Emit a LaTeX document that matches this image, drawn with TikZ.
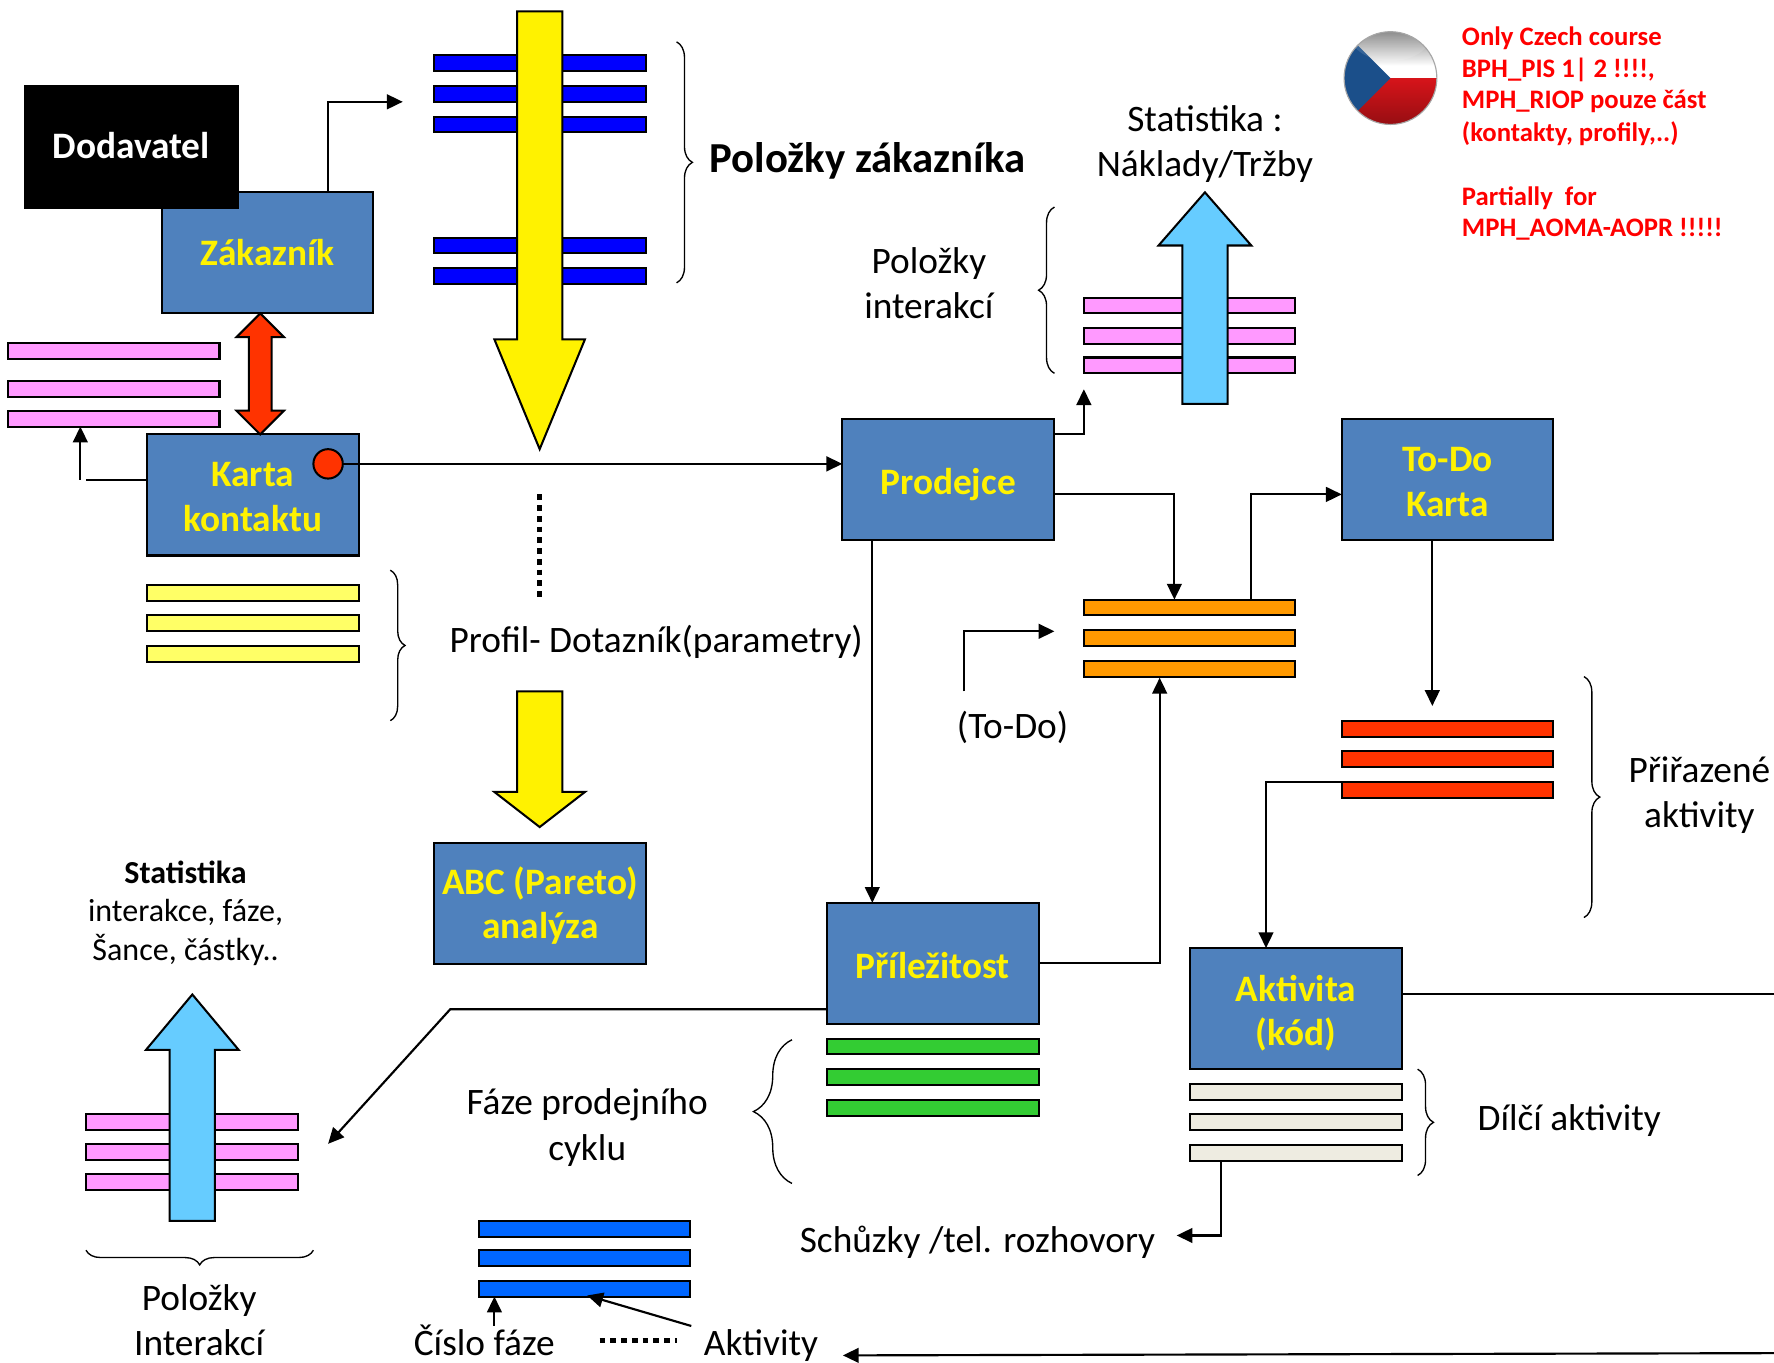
\documentclass[tikz,border=0pt]{standalone}
\usepackage{fontspec}
\setmainfont{Carlito}
\usetikzlibrary{arrows.meta,decorations.pathreplacing,calc}
\definecolor{boxblue}{HTML}{4F81BD}
\definecolor{pinkbar}{HTML}{FF99FF}
\definecolor{orangebar}{HTML}{FF9900}
\definecolor{redbar}{HTML}{FF3300}
\definecolor{greenbar}{HTML}{33CC33}
\definecolor{yellowbar}{HTML}{FFFF66}
\definecolor{skyarrow}{HTML}{66CCFF}
\definecolor{creambar}{HTML}{EEECE1}
\definecolor{midblue}{HTML}{0066FF}
\definecolor{flagblue}{HTML}{1B4F8A}
\definecolor{flagred}{HTML}{D7141A}
\tikzset{
  procbox/.style={draw=black,line width=1.8pt,fill=boxblue,inner sep=0pt,outer sep=0pt,
    minimum width=187pt,minimum height=107pt},
  boxtext/.style={yshift=-2pt,text=yellow,align=center,inner sep=0pt,
    font=\fontsize{33}{39.5}\selectfont\bfseries},
  barbox/.style={draw=black,line width=1.8pt,fill=#1,anchor=north west,inner sep=0pt,outer sep=0pt,
    minimum width=187pt,minimum height=14pt},
  lab/.style={align=center,inner sep=0pt,yshift=-2pt,font=\fontsize{33}{40}\selectfont},
  redlab/.style={anchor=west,inner sep=0pt,text=red,yshift=-2pt,font=\fontsize{23.6}{28}\selectfont\bfseries},
  conn/.style={line width=1.9pt,-{Triangle[length=14pt,width=13pt]}},
  plainconn/.style={line width=1.9pt},
  bigarrow/.style={draw=black,line width=1.8pt,fill=#1,line join=miter},
  bracepath/.style={draw=black,line width=1.2pt,decorate,decoration={brace,amplitude=#1}},
  thickdots/.style={line width=4.5pt,dash pattern=on 5pt off 4.5pt}
}
\newcommand{\barn}[4]{\node[barbox=#1] (#2) at (#3,#4) {};}
\begin{document}
\begin{tikzpicture}[x=1pt,y=-1pt]
\useasboundingbox (0,0) rectangle (1568,1204);

% --- top blue bars and yellow arrow
\barn{blue}{bza}{384}{49}
\barn{blue}{bzb}{384}{76}
\barn{blue}{bzc}{384}{103}
\barn{blue}{bzd}{384}{210}
\barn{blue}{bze}{384}{237}
\draw[bigarrow=yellow] (457,10)--(497,10)--(497,300)--(517,300)--(477,397)--(437,300)--(457,300)--cycle;
\draw[bracepath=14pt] (598,37) -- (598,250);
\node[lab,anchor=west,font=\fontsize{37.8}{44}\selectfont\bfseries] (polzak) at (627,140) {Položky zákazníka};

% --- Zákazník / Dodavatel
\node[procbox,label={[boxtext,yshift=2pt]center:Zákazník}] (zak) at (236.5,223.5) {};
\node[procbox,fill=black,minimum width=188pt,minimum height=108pt,label={[boxtext,text=white,yshift=3pt]center:Dodavatel}] (dod) at (116,130) {};
\coordinate (zakfree) at (356,90);
\draw[conn] ([xshift=53.5pt]zak.north) |- (zakfree);

% --- Karta kontaktu
\barn{pinkbar}{kpa}{7}{303}
\barn{pinkbar}{kpb}{7}{337}
\barn{pinkbar}{kpc}{7}{363}
\node[procbox,label={[boxtext]center:{Karta\\kontaktu}}] (karta) at (223.5,437.5) {};
\draw[draw=black,line width=1.8pt,fill=redbar] (230,277)--(251,298)--(240,298)--(240,363)--(251,363)--(230,384)--(209,363)--(220,363)--(220,298)--(209,298)--cycle;
\node[draw=black,line width=1.8pt,fill=redbar,circle,minimum size=26pt,inner sep=0pt,outer sep=0pt] (dot) at (290,410) {};
\coordinate (kup) at (71,424);
\draw[plainconn] (karta.west |- kup) -- ([xshift=5pt]kup);
\draw[conn] (kup) -- (kup |- kpc.south);
\barn{yellowbar}{kya}{130}{517}
\barn{yellowbar}{kyb}{130}{544}
\barn{yellowbar}{kyc}{130}{571}
\draw[bracepath=13pt] (345,504) -- (345,637);

% --- Profil
\coordinate (dota) at (477,437);
\coordinate (dotb) at (477,528);
\draw[thickdots] (dota) -- (dotb);
\node[lab] (profil) at (580,565) {Profil- Dotazník(parametry)};
\draw[bigarrow=yellow] (457,611)--(497,611)--(497,700)--(517,700)--(477,731)--(437,700)--(457,700)--cycle;
\node[procbox,label={[boxtext]center:{ABC (Pareto)\\analýza}}] (abc) at (477.5,798.5) {};

% --- Prodejce
\node[procbox,label={[boxtext,yshift=-2pt]center:Prodejce}] (prod) at (838,424) {};
\draw[conn] (dot.east) -- (prod.west |- dot.east);
\coordinate (produp) at (958,344);
\draw[conn] ([yshift=-13pt]prod.north east) -| (produp);

% --- Náklady/Tržby
\node[lab] (stat) at (1065,125) {Statistika :\\Náklady/Tržby};
\barn{pinkbar}{npa}{958}{263}
\barn{pinkbar}{npb}{958}{290}
\barn{pinkbar}{npc}{958}{316}
\draw[bigarrow=skyarrow] (1065,170)--(1106,217)--(1085,217)--(1085,357)--(1045,357)--(1045,217)--(1024,217)--cycle;
\node[lab] (polint) at (821,248.5) {Položky\\interakcí};
\draw[bracepath=14pt] (932,330) -- (932,183);

% --- orange bars
\barn{orangebar}{ora}{958}{530}
\barn{orangebar}{orb}{958}{557}
\barn{orangebar}{orc}{958}{584}
\node[procbox,label={[boxtext]center:{To-Do\\Karta}}] (todo) at (1279.5,424) {};
\draw[conn] ([yshift=-13pt]prod.east) -| ([xshift=-13.5pt]ora.north);
\draw[conn] ([xshift=54.5pt]ora.north) |- ([yshift=-13pt]todo.west);
\node[lab] (todolab) at (895,641) {(To-Do)};
\coordinate (tdstart) at (852,611);
\coordinate (tdend) at (932,558);
\draw[conn] (tdstart) |- (tdend);

% --- To-Do Karta bars
\coordinate (todoend) at (1266,624);
\draw[conn] (todo.south -| todoend) -- (todoend);
\barn{redbar}{raa}{1186}{637}
\barn{redbar}{rab}{1186}{664}
\barn{redbar}{rac}{1186}{691}
\draw[bracepath=14pt] (1400,598) -- (1400,811);
\node[lab] (prir) at (1502,700.5) {Přiřazené\\aktivity};

% --- Příležitost
\node[procbox,label={[boxtext]center:Příležitost}] (pril) at (824.5,851.5) {};
\coordinate (prilx) at (771,0);
\draw[conn] (prod.south -| prilx) -- (pril.north -| prilx);
\coordinate (orcup) at (1025,599);
\draw[conn] (pril.east) -| (orcup);
\barn{greenbar}{gra}{731}{918}
\barn{greenbar}{grb}{731}{945}
\barn{greenbar}{grc}{731}{972}
\draw[bracepath=34pt] (700,1046) -- (700,919);
\node[lab] (faze) at (519,994.5) {Fáze prodejního\\cyklu};

% --- Aktivita
\node[procbox,label={[boxtext,yshift=-2pt]center:{Aktivita\\(kód)}}] (akt) at (1145.5,891.5) {};
\coordinate (aktx) at (1119,0);
\draw[conn] (rac.north west) -- ++(-67,0) -- (akt.north -| aktx);
\coordinate (aktright) at (1568,878.5);
\draw[plainconn] (akt.east |- aktright) -- (aktright);
\barn{creambar}{cra}{1052}{958}
\barn{creambar}{crb}{1052}{985}
\barn{creambar}{crc}{1052}{1012}
\draw[bracepath=14pt] (1253,945) -- (1253,1039);
\node[lab] (dilci) at (1387,988) {Dílčí aktivity};
\node[lab] (schuz) at (864,1096) {Schůzky /tel. rozhovory};
\coordinate (schuzend) at (1040,1092);
\coordinate (schuzx) at (1079,0);
\draw[conn] (crc.south -| schuzx) |- (schuzend);

% --- Statistika bottom-left
\node[lab,font=\fontsize{28.3}{34}\selectfont] (statb) at (164,805) {\textbf{Statistika}\\interakce, fáze,\\Šance, částky..};
\barn{pinkbar}{spa}{76}{985}
\barn{pinkbar}{spb}{76}{1011}
\barn{pinkbar}{spc}{76}{1038}
\draw[bigarrow=skyarrow] (170,879)--(211,928)--(190,928)--(190,1079)--(150,1079)--(150,928)--(129,928)--cycle;
\draw[bracepath=13pt] (277,1105) -- (76,1105);
\node[lab] (polb) at (176,1165) {Položky\\Interakcí};
\coordinate (bendpt) at (398,892);
\coordinate (diagend) at (290,1011);
\draw[conn] (pril.west |- bendpt) -- (bendpt) -- (diagend);

% --- phase bars
\barn{midblue}{mba}{423}{1079}
\barn{midblue}{mbb}{423}{1105}
\barn{midblue}{mbc}{423}{1132}
\node[lab] (cislo) at (428,1183) {Číslo fáze};
\node[lab,anchor=west] (aktv) at (622,1187) {Aktivity};
\coordinate (cisloup) at (437,1172);
\coordinate (aktvfrom) at (611,1172);
\coordinate (aktvto) at (519,1145);
\draw[conn] (cisloup) -- (cisloup |- mbc.south);
\draw[conn] (aktvfrom) -- (aktvto);
\coordinate (hda) at (530,1185);
\coordinate (hdb) at (598,1185);
\draw[thickdots] (hda) -- (hdb);
\coordinate (botfrom) at (1568,1196);
\coordinate (botto) at (745,1198);
\draw[conn] (botfrom) -- (botto);

% --- flag
\begin{scope}
\clip (1229,69) circle (41);
\fill[white] (1188,28) rectangle (1270,69);
\shade[top color=black!50,bottom color=white] (1188,28) rectangle (1270,58);
\shade[top color=flagred,bottom color=flagred!70!black] (1188,69) rectangle (1270,110);
\fill[flagblue] (1229,69) -- (1185,25) -- (1180,25) -- (1180,113) -- (1185,113) -- cycle;
\fill[white,opacity=.12] (1229,30) ellipse (36 and 24);
\end{scope}
\draw[black!35,line width=1pt] (1229,69) circle (41);

% --- red note
\node[redlab] (n1) at (1292,32) {Only Czech course};
\node[redlab] (n2) at (1292,60) {BPH\_PIS 1| 2 !!!!,};
\node[redlab] (n3) at (1292,88) {MPH\_RIOP pouze část};
\node[redlab] (n4) at (1292,116) {(kontakty, profily,..)};
\node[redlab] (n5) at (1292,173) {Partially\ \ for};
\node[redlab] (n6) at (1292,201) {MPH\_AOMA-AOPR !!!!!};
\end{tikzpicture}
\end{document}
